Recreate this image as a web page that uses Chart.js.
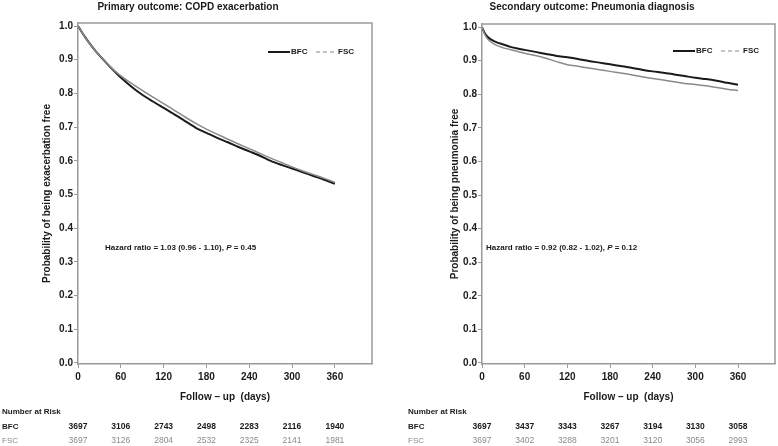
<!DOCTYPE html>
<html><head><meta charset="utf-8">
<script src="https://cdn.jsdelivr.net/npm/chart.js@4.4.1/dist/chart.umd.min.js"></script>
<style>
html,body{margin:0;padding:0;background:#fff;width:778px;height:446px;overflow:hidden}
#c1{position:absolute;left:0;top:0}
#c2{position:absolute;left:390px;top:0}
</style></head><body>
<canvas id="c1" width="390" height="446"></canvas>
<canvas id="c2" width="388" height="446"></canvas>
<script>
// ---------- data ----------
const copdDays = [0,5,10,15,20,25,30,40,50,60,75,90,105,120,135,150,165,180,195,210,225,240,255,270,285,300,315,330,345,360];
const copdBFC  = [1.000,0.983,0.967,0.952,0.938,0.925,0.913,0.890,0.868,0.847,0.820,0.796,0.776,0.757,0.738,0.718,0.698,0.683,0.668,0.655,0.641,0.628,0.615,0.600,0.588,0.577,0.566,0.555,0.544,0.532];
const copdFSC  = [1.000,0.983,0.967,0.952,0.938,0.925,0.913,0.891,0.870,0.852,0.830,0.809,0.789,0.770,0.750,0.730,0.711,0.694,0.679,0.664,0.650,0.636,0.622,0.608,0.595,0.582,0.570,0.559,0.548,0.536];

const pneuDays = [0,3,6,10,15,20,30,40,50,60,75,90,105,120,135,150,165,180,195,210,225,240,255,270,285,300,315,330,345,360];
const pneuBFC  = [1.000,0.985,0.975,0.967,0.960,0.955,0.948,0.941,0.936,0.932,0.926,0.920,0.914,0.910,0.905,0.899,0.894,0.889,0.884,0.879,0.873,0.868,0.864,0.859,0.854,0.849,0.845,0.840,0.834,0.828];
const pneuFSC  = [1.000,0.982,0.970,0.960,0.952,0.946,0.938,0.933,0.927,0.922,0.915,0.907,0.897,0.888,0.883,0.878,0.873,0.868,0.863,0.858,0.852,0.847,0.842,0.837,0.832,0.829,0.825,0.820,0.815,0.811];

const xTicks = [0,60,120,180,240,300,360];
const yTicks = [0,0.1,0.2,0.3,0.4,0.5,0.6,0.7,0.8,0.9,1.0];
const groups = ['BFC','FSC'];
const riskCopdBFC = [3697,3106,2743,2498,2283,2116,1940];
const riskCopdFSC = [3697,3126,2804,2532,2325,2141,1981];
const riskPneuBFC = [3697,3437,3343,3267,3194,3130,3058];
const riskPneuFSC = [3697,3402,3288,3201,3120,3056,2993];

// ---------- styling ----------
const FF = '"Liberation Sans", Arial, Helvetica, sans-serif';
const BORDER = '#9a9a9a';
const DARK = '#1a1a1a';
const GREY = '#8a8a8a';

function pts(xs, ys){ return xs.map((x,i)=>({x:x, y:ys[i]})); }

function makeChart(id, o){
  const canvas = document.getElementById(id);
  const W = canvas.width, H = canvas.height;
  const annot = {
    id:'annot',
    afterDraw(chart){
      const ctx = chart.ctx, a = chart.chartArea, xs = chart.scales.x;
      ctx.save();
      ctx.strokeStyle = BORDER; ctx.lineWidth = 1.5;
      ctx.beginPath(); ctx.moveTo(a.left, a.top); ctx.lineTo(a.right, a.top); ctx.lineTo(a.right, a.bottom); ctx.stroke();
      ctx.fillStyle = DARK;
      ctx.font = 'bold 10px ' + FF; ctx.textAlign = 'center'; ctx.textBaseline = 'middle';
      ctx.fillText(o.title, o.titleX, 7);
      ctx.font = 'bold 10px ' + FF;
      ctx.fillText('Follow \u2013 up  (days)', (a.left + a.right)/2, 397);
      ctx.save(); ctx.translate(o.yTitleX, (a.top + a.bottom)/2); ctx.rotate(-Math.PI/2);
      ctx.font = 'bold 10px ' + FF;
      ctx.fillText(o.yTitle, 0, 0); ctx.restore();
      ctx.textAlign = 'left';
      let hx = o.hrX; const hy = 248;
      const parts = [[o.hr1,'bold 8px '],['P','italic bold 8px '],[o.hr2,'bold 8px ']];
      parts.forEach(p=>{ ctx.font = p[1] + FF; ctx.fillText(p[0], hx, hy); hx += ctx.measureText(p[0]).width; });
      const ly = o.legY;
      ctx.lineWidth = 2; ctx.strokeStyle = DARK; ctx.setLineDash([]);
      ctx.beginPath(); ctx.moveTo(o.legX, ly); ctx.lineTo(o.legX + 22, ly); ctx.stroke();
      ctx.font = 'bold 8px ' + FF; ctx.fillStyle = DARK;
      ctx.fillText(groups[0], o.legX + 23, ly);
      ctx.lineWidth = 1.2; ctx.strokeStyle = GREY; ctx.setLineDash([4,3]);
      ctx.beginPath(); ctx.moveTo(o.legX + 48, ly); ctx.lineTo(o.legX + 68, ly); ctx.stroke();
      ctx.setLineDash([]);
      ctx.fillText(groups[1], o.legX + 70, ly);
      ctx.font = 'bold 8px ' + FF; ctx.fillStyle = DARK; ctx.textAlign = 'left';
      ctx.fillText('Number at Risk', o.riskX, 412);
      ctx.fillText(groups[0], o.riskX, 427);
      ctx.fillStyle = GREY; ctx.font = '8px ' + FF;
      ctx.fillText(groups[1], o.riskX, 441);
      ctx.textAlign = 'center';
      xTicks.forEach((d,i)=>{
        const px = xs.getPixelForValue(d);
        ctx.font = 'bold 8.5px ' + FF; ctx.fillStyle = DARK;
        ctx.fillText(String(o.riskA[i]), px, 427);
        ctx.font = '8.5px ' + FF; ctx.fillStyle = GREY;
        ctx.fillText(String(o.riskB[i]), px, 441);
      });
      ctx.restore();
    }
  };
  return new Chart(canvas, {
    type:'line',
    data:{ datasets:[
      {label:groups[1], data:pts(o.days, o.fsc), borderColor:GREY, borderWidth:1.5, pointRadius:0, tension:0.3, fill:false},
      {label:groups[0], data:pts(o.days, o.bfc), borderColor:DARK, borderWidth:2, pointRadius:0, tension:0.3, fill:false}
    ]},
    options:{
      responsive:false, animation:false, devicePixelRatio:1,
      layout:{padding:{top:o.top, left:0, right:W - o.right, bottom:0}},
      plugins:{legend:{display:false}, tooltip:{enabled:false}, title:{display:false}},
      scales:{
        x:{type:'linear', min:0, max:412,
           afterBuildTicks(s){ s.ticks = xTicks.map(v=>({value:v})); },
           afterFit(s){ s.height = H - 364; },
           ticks:{autoSkip:false, maxRotation:0, padding:3, color:DARK, font:{family:FF, size:10, weight:'bold'}},
           grid:{drawOnChartArea:false, drawTicks:true, tickLength:4, color:BORDER, lineWidth:1},
           border:{display:true, color:BORDER, width:1.5}},
        y:{type:'linear', min:-0.003, max:1.009,
           afterBuildTicks(s){ s.ticks = yTicks.map(v=>({value:v})); },
           afterFit(s){ s.width = o.left; },
           ticks:{padding:1, color:DARK, font:{family:FF, size:10, weight:'bold'}, callback:v=>Number(v).toFixed(1)},
           grid:{drawOnChartArea:false, drawTicks:true, tickLength:4, color:BORDER, lineWidth:1},
           border:{display:true, color:BORDER, width:1.5}}
      }
    },
    plugins:[annot]
  });
}

makeChart('c1', {
  days:copdDays, bfc:copdBFC, fsc:copdFSC, riskA:riskCopdBFC, riskB:riskCopdFSC,
  top:23, left:78, right:372,
  title:'Primary outcome: COPD exacerbation', titleX:188,
  yTitle:'Probability of being exacerbation free', yTitleX:47,
  hr1:'Hazard ratio = 1.03 (0.96 - 1.10), ', hr2:' = 0.45', hrX:105,
  legX:268, legY:52, riskX:2
});
makeChart('c2', {
  days:pneuDays, bfc:pneuBFC, fsc:pneuFSC, riskA:riskPneuBFC, riskB:riskPneuFSC,
  top:24, left:92, right:385,
  title:'Secondary outcome: Pneumonia diagnosis', titleX:202,
  yTitle:'Probability of being pneumonia free', yTitleX:65,
  hr1:'Hazard ratio = 0.92 (0.82 - 1.02), ', hr2:' = 0.12', hrX:96,
  legX:283, legY:51, riskX:18
});
</script>
</body></html>
